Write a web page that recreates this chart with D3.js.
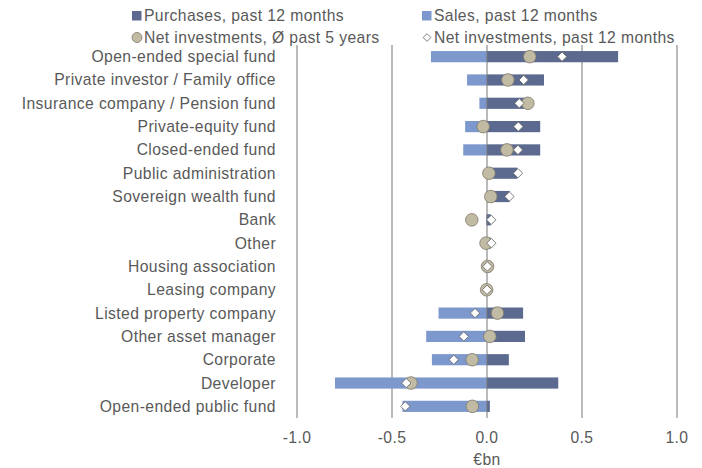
<!DOCTYPE html>
<html>
<head>
<meta charset="utf-8">
<script src="https://cdn.jsdelivr.net/npm/d3@7"></script>
<style>
  body { margin: 0; background: #fff; }
  svg { font-family: "Liberation Sans", Arial, sans-serif; letter-spacing: 0.4px; }
  text { fill: #595959; }
</style>
</head>
<body>
<svg width="702" height="468"></svg>
<script>
const categories = ["Open-ended special fund", "Private investor / Family office", "Insurance company / Pension fund",
  "Private-equity fund", "Closed-ended fund", "Public administration", "Sovereign wealth fund", "Bank", "Other",
  "Housing association", "Leasing company", "Listed property company", "Other asset manager", "Corporate",
  "Developer", "Open-ended public fund"];
const purchases = [0.69, 0.30, 0.21, 0.28, 0.28, 0.16, 0.12, 0.02, 0.02, 0.002, 0, 0.19, 0.20, 0.115, 0.375, 0.015];
const sales = [-0.295, -0.105, -0.04, -0.115, -0.125, 0, 0, -0.004, 0, 0, 0, -0.255, -0.32, -0.29, -0.80, -0.445];
const net5y = [0.225, 0.11, 0.215, -0.02, 0.105, 0.01, 0.02, -0.08, -0.005, 0.003, -0.002, 0.055, 0.015, -0.078, -0.4, -0.077];
const net12m = [0.395, 0.193, 0.17, 0.165, 0.163, 0.163, 0.118, 0.022, 0.023, 0.002, 0, -0.063, -0.122, -0.175, -0.425, -0.43];
const ticks = [-1.0, -0.5, 0.0, 0.5, 1.0];

const colPurch = "#5d6a8f";
const colSales = "#7d98cd";
const colCircle = "#c2bba4";
const fs = 15.7;

const svg = d3.select("svg");

const x = d3.scaleLinear().domain([-1, 1]).range([297, 677]);
const y = d3.scaleBand().domain(categories).range([45, 418]).paddingInner(0.52).paddingOuter(0.26);

const rows = categories.map((c, i) => ({c, p: purchases[i], s: sales[i], n5: net5y[i], n12: net12m[i]}));

// gridlines
svg.append("g").selectAll("line").data(ticks.filter(t => t !== 0)).join("line")
  .attr("x1", d => x(d)).attr("x2", d => x(d))
  .attr("y1", 45).attr("y2", 418)
  .attr("stroke", "#777").attr("stroke-width", 1);

// bars
svg.append("g").selectAll("rect").data(rows).join("rect")
  .attr("x", d => x(d.s)).attr("width", d => x(0) - x(d.s))
  .attr("y", d => y(d.c)).attr("height", y.bandwidth())
  .attr("fill", colSales);
svg.append("g").selectAll("rect").data(rows).join("rect")
  .attr("x", x(0)).attr("width", d => x(d.p) - x(0))
  .attr("y", d => y(d.c)).attr("height", y.bandwidth())
  .attr("fill", colPurch);

// zero axis line
svg.append("line")
  .attr("x1", x(0)).attr("x2", x(0)).attr("y1", 45).attr("y2", 418)
  .attr("stroke", "#777").attr("stroke-width", 1);

// markers
svg.append("g").selectAll("circle").data(rows).join("circle")
  .attr("cx", d => x(d.n5)).attr("cy", d => y(d.c) + y.bandwidth() / 2)
  .attr("r", 6.3)
  .attr("fill", colCircle).attr("stroke", "#7d786a").attr("stroke-width", 0.8);

const diamond = d3.symbol().type(d3.symbolSquare).size(44);
svg.append("g").selectAll("path").data(rows).join("path")
  .attr("d", diamond)
  .attr("transform", d => `translate(${x(d.n12)},${y(d.c) + y.bandwidth() / 2}) rotate(45)`)
  .attr("fill", "#fff").attr("stroke", "#666").attr("stroke-width", 0.8);

// category labels
svg.append("g").selectAll("text").data(categories).join("text")
  .attr("x", 276).attr("y", d => y(d) + y.bandwidth() / 2)
  .attr("dy", "0.35em").attr("text-anchor", "end")
  .attr("font-size", fs).text(d => d);

// x axis labels
svg.append("g").selectAll("text").data(ticks).join("text")
  .attr("x", d => x(d)).attr("y", 438).attr("dy", "0.35em")
  .attr("text-anchor", "middle").attr("font-size", fs)
  .text(d => d3.format(".1f")(d).replace("−", "-"));

svg.append("text").attr("x", x(0)).attr("y", 460).attr("dy", "0.35em")
  .attr("text-anchor", "middle").attr("font-size", fs).text("€bn");

// legend
const lg = svg.append("g").attr("font-size", fs);
lg.append("rect").attr("x", 132).attr("y", 11).attr("width", 9.5).attr("height", 9.5).attr("fill", colPurch);
lg.append("text").attr("x", 144).attr("y", 16).attr("dy", "0.35em").text("Purchases, past 12 months");
lg.append("rect").attr("x", 422).attr("y", 11).attr("width", 9.5).attr("height", 9.5).attr("fill", colSales);
lg.append("text").attr("x", 434).attr("y", 16).attr("dy", "0.35em").text("Sales, past 12 months");
lg.append("circle").attr("cx", 137).attr("cy", 37.5).attr("r", 5)
  .attr("fill", colCircle).attr("stroke", "#7d786a").attr("stroke-width", 0.8);
lg.append("text").attr("x", 144).attr("y", 37.5).attr("dy", "0.35em").text("Net investments,  Ø past 5 years");
lg.append("path").attr("d", d3.symbol().type(d3.symbolSquare).size(30))
  .attr("transform", "translate(427,37.5) rotate(45)")
  .attr("fill", "#fff").attr("stroke", "#666").attr("stroke-width", 0.8);
lg.append("text").attr("x", 434).attr("y", 37.5).attr("dy", "0.35em").text("Net investments,  past 12 months");
</script>
</body>
</html>
